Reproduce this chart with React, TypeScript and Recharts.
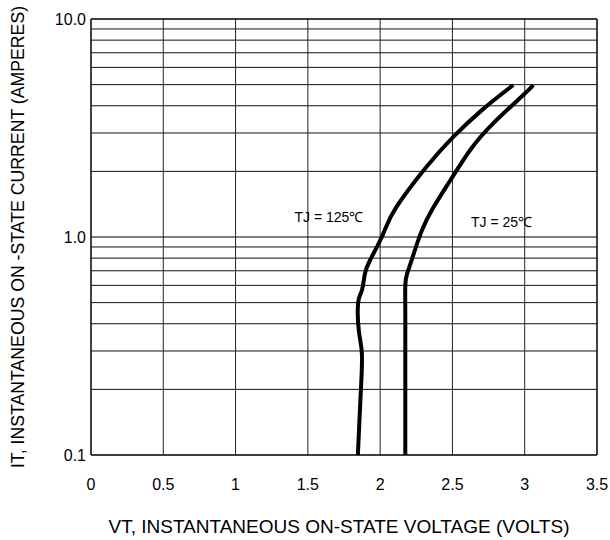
import React from "react";
import {
  LineChart,
  Line,
  XAxis,
  YAxis,
  ReferenceLine,
  ReferenceDot,
  Customized,
} from "recharts";

// Tj = 25°C curve
const v25 = [2.174, 2.174, 2.174, 2.174, 2.174, 2.174, 2.187, 2.218, 2.252, 2.29, 2.358, 2.487, 2.623, 2.782, 2.99, 3.059];
const i25 = [0.1, 0.15, 0.22, 0.32, 0.45, 0.6, 0.681, 0.784, 0.919, 1.077, 1.33, 1.826, 2.507, 3.32, 4.48, 4.98];

// Tj = 125°C curve
const v125 = [1.846, 1.856, 1.867, 1.874, 1.853, 1.848, 1.874, 1.895, 1.929, 1.985, 2.033, 2.114, 2.321, 2.506, 2.704, 2.921];
const i125 = [0.1, 0.14, 0.2, 0.29, 0.37, 0.5, 0.57, 0.68, 0.78, 0.92, 1.08, 1.377, 2.1, 2.88, 3.82, 4.98];

const xTicks = [0, 0.5, 1, 1.5, 2, 2.5, 3, 3.5];
const xTickLabels = ["0", "0.5", "1", "1.5", "2", "2.5", "3", "3.5"];
const yTicks = [0.1, 1, 10];
const yTickLabels = ["0.1", "1.0", "10.0"];
const yGrid = [0.2, 0.3, 0.4, 0.5, 0.6, 0.7, 0.8, 0.9, 2, 3, 4, 5, 6, 7, 8, 9];
const xGrid = [0.5, 1, 1.5, 2, 2.5, 3];

const data25 = v25.map((v, k) => ({ v, i: i25[k] }));
const data125 = v125.map((v, k) => ({ v, i: i125[k] }));

const FONT = "'Liberation Sans', Arial, Helvetica, sans-serif";
const W = 610;
const H = 540;

const XTick = (props: any) => {
  const { x, y, payload } = props;
  const idx = xTicks.indexOf(payload.value);
  return (
    <text x={x} y={y + 27} textAnchor="middle" dominantBaseline="central" fontFamily={FONT} fontSize={16} fill="#000">
      {idx >= 0 ? xTickLabels[idx] : String(payload.value)}
    </text>
  );
};

const YTick = (props: any) => {
  const { x, y, payload } = props;
  const idx = yTicks.indexOf(payload.value);
  return (
    <text x={x} y={y} textAnchor="end" dominantBaseline="central" fontFamily={FONT} fontSize={16} fill="#000">
      {idx >= 0 ? yTickLabels[idx] : String(payload.value)}
    </text>
  );
};

const TjLabel = (text: string) => (props: any) => {
  const vb = props.viewBox || {};
  const cx = (vb.x ?? 0) + (vb.width ?? 0) / 2;
  const cy = (vb.y ?? 0) + (vb.height ?? 0) / 2;
  return (
    <text x={cx} y={cy} textAnchor="middle" dominantBaseline="central" fontFamily={FONT} fontSize={14} fill="#000">
      {text}
    </text>
  );
};

const Titles = () => (
  <g fontFamily={FONT} fill="#000">
    <text x={339} y={526.5} fontSize={19} textAnchor="middle" dominantBaseline="central">
      VT, INSTANTANEOUS ON-STATE VOLTAGE (VOLTS)
    </text>
    <text
      x={18}
      y={237}
      fontSize={17.7}
      textAnchor="middle"
      dominantBaseline="central"
      transform="rotate(-90, 18, 237)"
    >
      IT, INSTANTANEOUS ON -STATE CURRENT (AMPERES)
    </text>
  </g>
);

export default function App() {
  return (
    <div style={{ position: "absolute", left: 0, top: 0, width: W, height: H, fontFamily: FONT }}>
      <LineChart width={W} height={H} margin={{ top: 19, right: 13, bottom: 45, left: 31 }}>
        <XAxis
          type="number"
          dataKey="v"
          domain={[0, 3.5]}
          ticks={xTicks}
          allowDataOverflow
          axisLine={false}
          tickLine={false}
          tickSize={0}
          height={40}
          tick={<XTick />}
        />
        <YAxis
          type="number"
          scale="log"
          domain={[0.1, 10]}
          ticks={yTicks}
          allowDataOverflow
          axisLine={false}
          tickLine={false}
          tickSize={0}
          tickMargin={5}
          width={60}
          tick={<YTick />}
        />
        {yGrid.map((y) => (
          <ReferenceLine key={"h" + y} y={y} stroke="#111" strokeWidth={1} />
        ))}
        {xGrid.map((x) => (
          <ReferenceLine key={"v" + x} x={x} stroke="#222" strokeWidth={1} />
        ))}
        <ReferenceLine y={0.1} stroke="#000" strokeWidth={1.5} />
        <ReferenceLine y={1} stroke="#000" strokeWidth={1} />
        <ReferenceLine y={10} stroke="#000" strokeWidth={1.5} />
        <ReferenceLine x={0} stroke="#000" strokeWidth={1.5} />
        <ReferenceLine x={3.5} stroke="#000" strokeWidth={1.5} />
        <Line
          data={data125}
          dataKey="i"
          type="natural"
          stroke="#000"
          strokeWidth={4}
          dot={false}
          isAnimationActive={false}
        />
        <Line
          data={data25}
          dataKey="i"
          type="natural"
          stroke="#000"
          strokeWidth={4}
          dot={false}
          isAnimationActive={false}
        />
        <ReferenceDot
          x={1.646}
          y={1.235}
          r={0}
          stroke="none"
          fill="none"
          label={{ content: TjLabel("TJ = 125℃"), position: "center" }}
        />
        <ReferenceDot
          x={2.84}
          y={1.17}
          r={0}
          stroke="none"
          fill="none"
          label={{ content: TjLabel("TJ = 25℃"), position: "center" }}
        />
        <Customized component={<Titles />} />
      </LineChart>
    </div>
  );
}
